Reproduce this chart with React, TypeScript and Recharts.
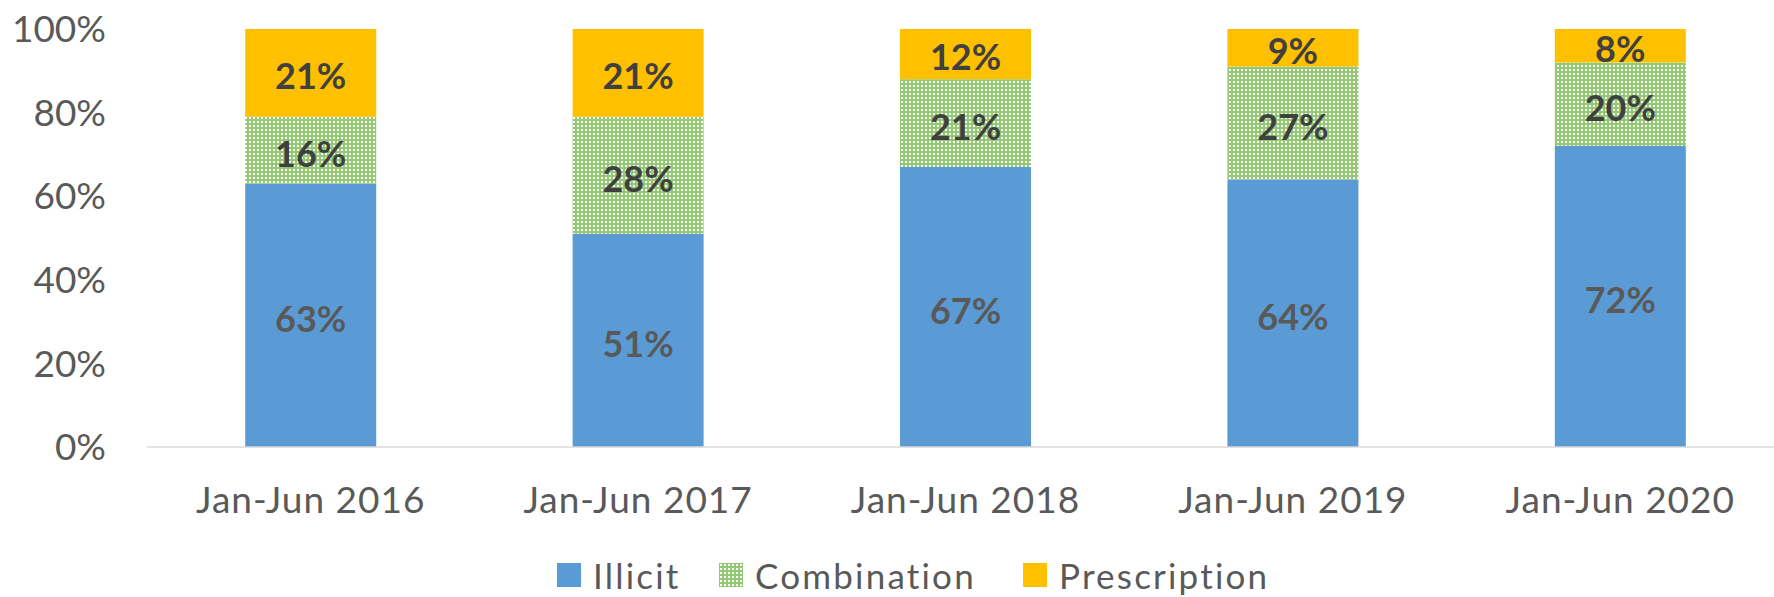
import React from "react"
import { BarChart, Bar, XAxis, YAxis, Legend, LabelList } from "recharts"

// half-year periods
const periods = ["Jan-Jun 2016", "Jan-Jun 2017", "Jan-Jun 2018", "Jan-Jun 2019", "Jan-Jun 2020"]
const illicit = [63, 51, 67, 64, 72]
const combination = [16, 28, 21, 27, 20]
const prescription = [21, 21, 12, 9, 8]
const yTicks = [0, 20, 40, 60, 80, 100]

const data = periods.map((name, i) => ({
  name,
  illicit: illicit[i],
  combination: combination[i],
  prescription: prescription[i],
}))

const FONT = "Lato, 'Open Sans', sans-serif"

const legendItems = [
  { label: "Illicit", fill: "#5B9BD5", w: 162 },
  { label: "Combination", fill: "url(#dotGrid)", w: 304 },
  { label: "Prescription", fill: "#FFC000", w: 260 },
]

function LegendContent() {
  return (
    <div
      style={{
        display: "flex",
        alignItems: "center",
        height: 60,
        paddingLeft: 557,
        paddingTop: 16,
        boxSizing: "border-box",
        fontFamily: FONT,
        fontSize: 35,
        letterSpacing: 2.2,
        color: "#595959",
      }}
    >
      {legendItems.map((it, i) => (
        <div key={it.label} style={{ display: "flex", alignItems: "center", width: it.w, flex: "none" }}>
          <svg width={24} height={24} style={{ marginRight: 12, flex: "none" }}>
            <defs>
              <pattern id={`lg${i}`} width={4} height={4} patternUnits="userSpaceOnUse">
                <rect width={4} height={4} fill="#93C973" />
                <rect x={1} y={1} width={2} height={2} fill="#FFFFFF" />
              </pattern>
            </defs>
            <rect width={24} height={24} fill={i === 1 ? `url(#lg${i})` : it.fill} />
          </svg>
          <span style={{ lineHeight: 1, whiteSpace: "nowrap" }}>{it.label}</span>
        </div>
      ))}
    </div>
  )
}

const pct = (v: any) => `${v}%`

const labelStyle = { fontSize: 36, fontWeight: 700, fontFamily: FONT }

export default function App() {
  return (
    <div style={{ position: "absolute", left: 0, top: 0, width: 1774, height: 597, overflow: "hidden", background: "#fff" }}>
      <BarChart
        width={1784}
        height={597}
        data={data}
        margin={{ top: 29, right: 0, bottom: 0, left: 0 }}
        barCategoryGap="30%"
      >
        <defs>
          <pattern id="dotGrid" width={4} height={4} patternUnits="userSpaceOnUse">
            <rect width={4} height={4} fill="#93C973" />
            <rect x={1} y={1} width={2} height={2} fill="#FFFFFF" />
          </pattern>
        </defs>
        <XAxis
          dataKey="name"
          height={90}
          axisLine={{ stroke: "#D9D9D9", strokeWidth: 1.5 }}
          tickLine={false}
          tickSize={0}
          tickMargin={40}
          tick={{ fill: "#595959", fontSize: 37, fontFamily: FONT, letterSpacing: 1 }}
          interval={0}
        />
        <YAxis
          width={147}
          domain={[0, 100]}
          ticks={yTicks}
          axisLine={false}
          tickLine={false}
          tickSize={0}
          tickMargin={41}
          tickFormatter={pct}
          tick={{ fill: "#595959", fontSize: 37, fontFamily: FONT }}
        />
        <Legend verticalAlign="bottom" height={60} content={<LegendContent />} />
        <Bar dataKey="illicit" stackId="a" fill="#5B9BD5" isAnimationActive={false}>
          <LabelList
            dataKey="illicit"
            position="center"
            formatter={pct}
            dy={4}
            style={{ ...labelStyle, fill: "#595959" }}
          />
        </Bar>
        <Bar dataKey="combination" stackId="a" fill="url(#dotGrid)" isAnimationActive={false}>
          <LabelList
            dataKey="combination"
            position="center"
            formatter={pct}
            dy={4}
            style={{ ...labelStyle, fill: "#404040" }}
          />
        </Bar>
        <Bar dataKey="prescription" stackId="a" fill="#FFC000" isAnimationActive={false}>
          <LabelList
            dataKey="prescription"
            position="center"
            formatter={pct}
            dy={3}
            style={{ ...labelStyle, fill: "#404040" }}
          />
        </Bar>
      </BarChart>
    </div>
  )
}
